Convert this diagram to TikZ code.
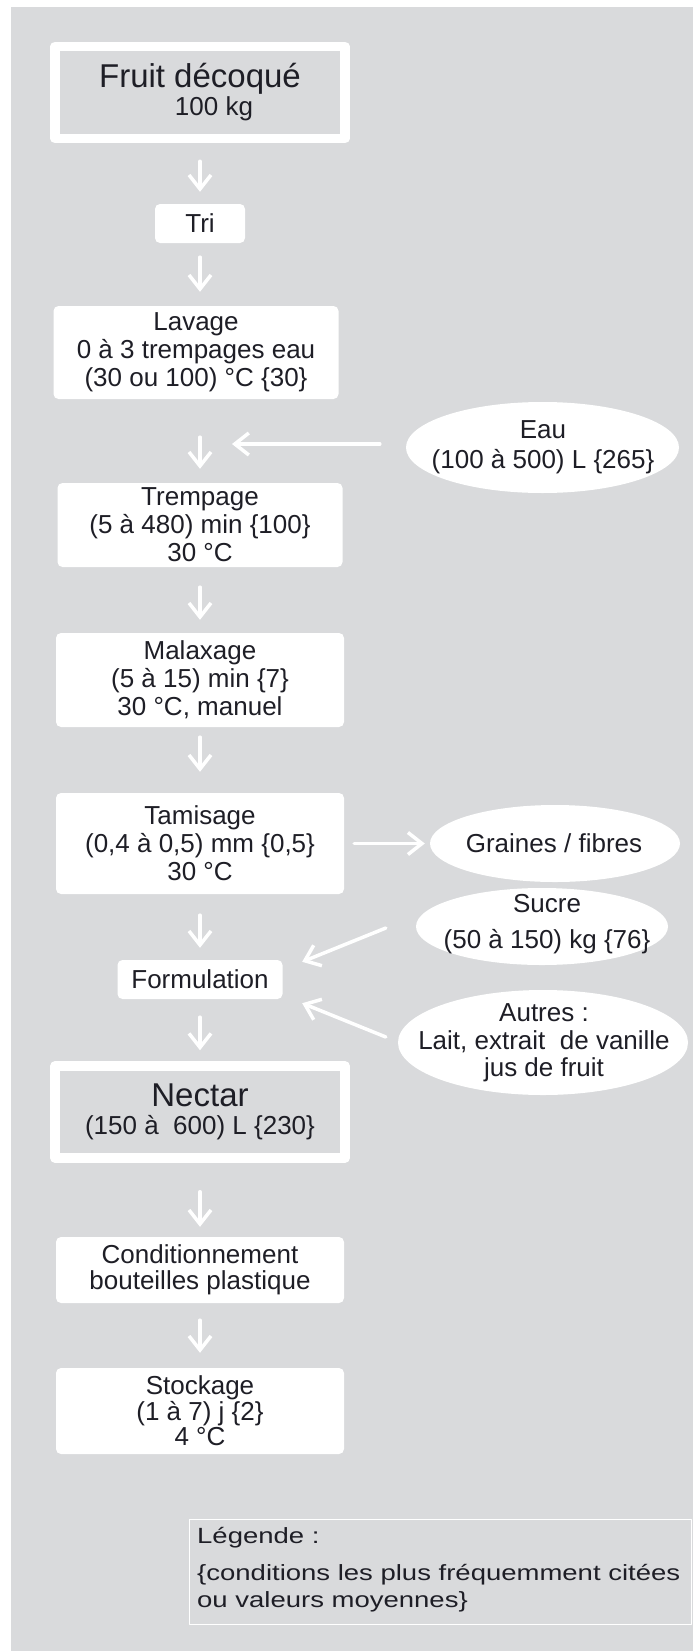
\documentclass[tikz,border=0pt]{standalone}
\usepackage{fontspec}
\setmainfont{Liberation Sans}
\newfontfamily\legfont[FakeStretch=1.25]{Liberation Sans}
\usetikzlibrary{arrows.meta,shapes.geometric}
\definecolor{fond}{RGB}{217,218,220}
\definecolor{encre}{RGB}{30,30,38}

\begin{document}
\begin{tikzpicture}[x=1pt,y=-1pt,>={Straight Barb[length=14pt,width=22pt]},line join=round,line cap=round,
		font=\fontsize{26}{28}\selectfont,text=encre,
		etape/.style={fill=white,rounded corners=5pt,align=center,inner sep=0pt},
		produit/.style={draw=white,line width=9.5pt,fill=fond,align=center,inner sep=0pt,
			minimum width=290pt,minimum height=92pt},
		entree/.style={ellipse,fill=white,inner sep=0pt},
		entreetxt/.style={align=center,inner sep=0pt},
		legende/.style={anchor=base west,inner sep=0pt,font=\legfont\fontsize{22}{26}\selectfont},
		fleche/.style={->,draw=white,line width=3.5pt}]
		\useasboundingbox (0,0) rectangle (693,1651);
		\fill[white] (0,0) rectangle (693,1651);
		\fill[fond] (11,7) rectangle (693,1651);
		% colonne principale
		\node[produit] (fruit) at (200,92.5) {\fontsize{33}{32}\selectfont Fruit décoqué\\\fontsize{26}{32}\selectfont\hspace*{28pt}100 kg};
		\node[etape,minimum width=90pt,minimum height=39pt] (tri) at (200,223.5) {Tri};
		\node[etape,minimum width=285pt,minimum height=93pt] (lav) at (196,352.5) {Lavage\\0 à 3 trempages eau\\(30 ou 100) °C \{30\}};
		\node[etape,minimum width=285pt,minimum height=84pt] (tre) at (200,525) {Trempage\\(5 à 480) min \{100\}\\30 °C};
		\node[etape,minimum width=288pt,minimum height=94pt] (mal) at (200,680) {Malaxage\\(5 à 15) min \{7\}\\30 °C, manuel};
		\node[etape,minimum width=288pt,minimum height=101pt] (tam) at (200,843.5) {Tamisage\\(0,4 à 0,5) mm \{0,5\}\\30 °C};
		\node[etape,minimum width=165pt,minimum height=39pt] (form) at (200,979.5) {Formulation};
		\node[produit] (nec) at (200,1112) {\fontsize{33}{30}\selectfont Nectar\\\fontsize{26}{30}\selectfont (150 à~ 600) L \{230\}};
		\node[etape,minimum width=288pt,minimum height=66pt,font=\fontsize{26}{26}\selectfont] (cond) at (200,1270) {Conditionnement\\bouteilles plastique};
		\node[etape,minimum width=288pt,minimum height=86pt,font=\fontsize{26}{25.5}\selectfont] (sto) at (200,1411) {Stockage\\(1 à 7) j \{2\}\\4 °C};
		% entrees et sorties
		\node[entree,minimum width=273pt,minimum height=91pt] (eau) at (542.5,447.5) {};
		\node[entreetxt,font=\fontsize{26}{30}\selectfont] (eauTxt) at (543,447) {Eau\\(100 à 500) L \{265\}};
		\node[entree,minimum width=250pt,minimum height=77pt] (gra) at (555,843.5) {};
		\node[entreetxt] (graTxt) at (554,843) {Graines / fibres};
		\node[entree,minimum width=252pt,minimum height=77pt] (suc) at (542,926.5) {};
		\node[entreetxt,font=\fontsize{26}{36}\selectfont] (sucTxt) at (547,924) {Sucre\\(50 à 150) kg \{76\}};
		\node[entree,minimum width=290pt,minimum height=105pt] (aut) at (543,1042.5) {};
		\node[entreetxt,font=\fontsize{26}{27.5}\selectfont] (autTxt) at (544,1043) {Autres :\\Lait, extrait~ de vanille\\jus de fruit};
		\coordinate (eauIn) at (232,444);
		% fleches
		\draw[fleche,shorten <=18pt,shorten >=12pt] (fruit.south) -- (tri.north);
		\draw[fleche,shorten <=14pt,shorten >=14pt] (tri.south) -- (tri.south |- lav.north);
		\draw[fleche,shorten <=38pt,shorten >=14pt] (lav.south -| tre.north) -- (tre.north);
		\draw[fleche,shorten <=20pt,shorten >=13pt] (tre.south) -- (mal.north);
		\draw[fleche,shorten <=10pt,shorten >=21pt] (mal.south) -- (tam.north);
		\draw[fleche,shorten <=21pt,shorten >=12pt] (tam.south) -- (form.north);
		\draw[fleche,shorten <=18pt,shorten >=11pt] (form.south) -- (nec.north);
		\draw[fleche,shorten <=29pt,shorten >=10pt] (nec.south) -- (cond.north);
		\draw[fleche,shorten <=17pt,shorten >=15pt] (cond.south) -- (sto.north);
		\draw[fleche,shorten <=26pt] (eau.west |- eauIn) -- (eauIn);
		\draw[fleche,shorten <=10pt,shorten >=5pt] (tam.east) -- (gra.west);
		\draw[fleche] ([shift={(-30,1.5)}]suc.west) -- ([shift={(19.5,2)}]form.north east);
		\draw[fleche] ([shift={(-12,-5.5)}]aut.west) -- ([shift={(19.5,4)}]form.south east);
		% legende
		\node[draw=white,line width=1pt,minimum width=502pt,minimum height=105pt,inner sep=0pt] (leg) at (440,1571.5) {};
		\node[legende] (legA) at (197,1543) {Légende :};
		\node[legende] (legB) at (197,1580) {\{conditions les plus fréquemment citées};
		\node[legende] (legC) at (197,1607) {ou valeurs moyennes\}};
	\end{tikzpicture}
\end{document}
